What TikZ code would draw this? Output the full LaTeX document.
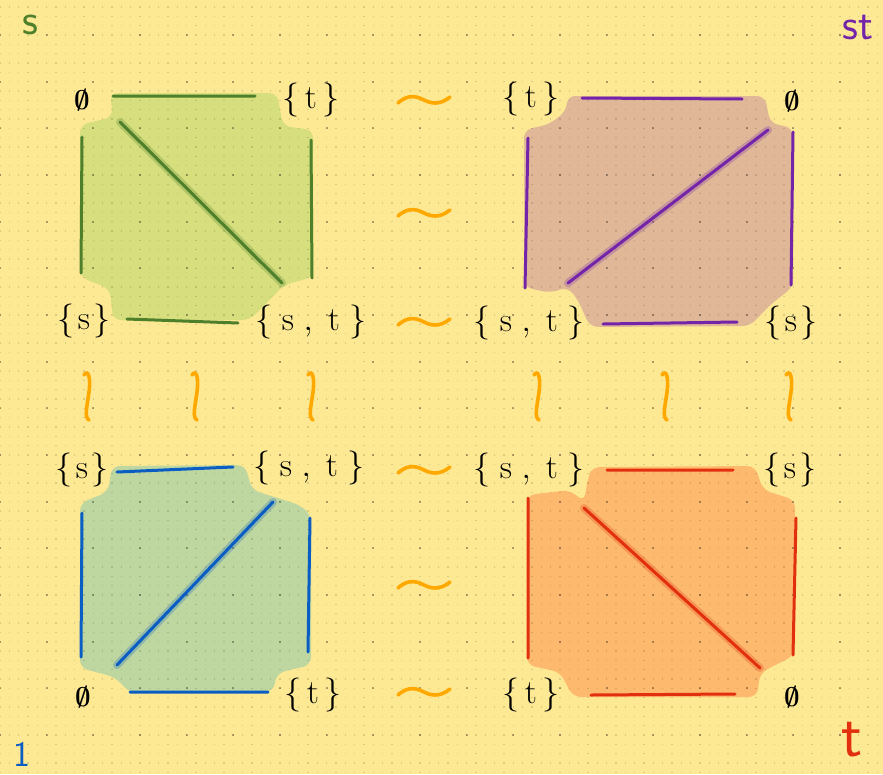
\RequirePackage{fix-cm}
\documentclass[tikz,border=0pt]{standalone}
\definecolor{bg}{HTML}{FDE993}
\definecolor{gfill}{HTML}{D6DE7E}
\definecolor{gline}{HTML}{4E7F2A}
\definecolor{pfill}{HTML}{E0B898}
\definecolor{pline}{HTML}{7424A8}
\definecolor{bfill}{HTML}{BED6A0}
\definecolor{bline}{HTML}{0A5DC2}
\definecolor{ofill}{HTML}{FDBA6E}
\definecolor{oline}{HTML}{E2300F}
\definecolor{tildec}{HTML}{FFA800}
\tikzset{
  edgeline/.style={line width=3pt, line cap=round},
  halo/.style={line width=8pt, line cap=round, opacity=0.25},
  blob/.style={rounded corners=8pt},
  lab/.style={font=\fontsize{34}{34}\selectfont, inner sep=0pt},
  elab/.style={font=\fontsize{27}{27}\selectfont\boldmath, inner sep=0pt},
  corner/.style={font=\sffamily\fontsize{44}{44}\selectfont, inner sep=0pt},
  tld/.style={draw=tildec, line width=3.6pt, line cap=round},
}
\newcommand{\Sst}{$\{\;\mathrm{s}\;,\;\mathrm{t}\;\}$}
\newcommand{\St}{$\{\,\mathrm{t}\,\}$}
\newcommand{\Ss}{$\{\mkern2mu\mathrm{s}\mkern2mu\}$}
\newcommand{\Se}{$\emptyset$}
\newcommand{\htld}[3]{\draw[tld] (#2-26,#3+3) .. controls (#2-15,#3-7) and (#2-6,#3-3) .. (#2,#3) .. controls (#2+6,#3+3) and (#2+15,#3+6) .. (#2+26,#3-3) coordinate (#1);}
\newcommand{\vtld}[3]{\draw[tld] (#2-4,#3-22) .. controls (#2,#3-28) and (#2+3,#3-20) .. (#2+1,#3-5) .. controls (#2-1,#3+10) and (#2-4,#3+20) .. (#2+1,#3+23) coordinate (#1);}
\begin{document}
\begin{tikzpicture}[x=1pt,y=-1pt]
\useasboundingbox (0,0) rectangle (883,774);
\fill[bg] (0,0) rectangle (883,774);

% fills
\fill[gfill,blob] (110,93) -- (277,93) -- (283,126) -- (313,130) -- (313,277) -- (284,285) -- (250,320) -- (113,320) -- (110,289) -- (80,277) -- (80,125) -- (113,117) -- cycle;
\fill[pfill,blob] (567,96) -- (765,96) -- (770,123) -- (793,128) -- (793,287) -- (770,305) -- (750,326) -- (590,327) -- (578,300) -- (568,287) -- (550,293) -- (524,287) -- (524,130) -- (550,124) -- (567,110) -- cycle;
\fill[bfill,blob] (112,466) -- (245,465) -- (252,490) -- (300,505) -- (311,515) -- (311,665) -- (277,673) -- (273,692) -- (130,693) -- (115,677) -- (80,668) -- (80,503) -- (108,492) -- cycle;
\fill[ofill,blob] (592,467) -- (755,466) -- (763,490) -- (795,500) -- (795,655) -- (760,673) -- (757,697) -- (573,697) -- (560,672) -- (527,665) -- (527,495) -- (570,490) -- (584,502) -- (588,478) -- cycle;

% dot grid
\foreach \j in {0,...,82} {
  \draw[black, opacity=0.13, line width=1.5pt, dash pattern=on 1.5pt off 7.833pt, dash phase=0.75pt] (0,{7+9.3333*\j}) -- (883,{7+9.3333*\j});
}
\foreach \j in {0,...,16} {
  \draw[black, opacity=0.3, line width=2.2pt, dash pattern=on 2.2pt off 44.467pt, dash phase=1.1pt] (0,{35+46.667*\j}) -- (883,{35+46.667*\j});
}

% green square
\coordinate (g1) at (113,96); \coordinate (g2) at (255,96);
\coordinate (g3) at (82,137); \coordinate (g4) at (81,273);
\coordinate (g5) at (311,140); \coordinate (g6) at (312,278);
\coordinate (g7) at (127,319); \coordinate (g8) at (238,323);
\coordinate (g9) at (120,122); \coordinate (g10) at (282,283);
\draw[halo,gline] (g9) -- (g10);
\draw[edgeline,gline] (g1) -- (g2) (g3) -- (g4) (g5) -- (g6) (g7) -- (g8) (g9) -- (g10);

% purple square
\coordinate (p1) at (582,98); \coordinate (p2) at (742,99);
\coordinate (p3) at (528,138); \coordinate (p4) at (525,288);
\coordinate (p5) at (793,132); \coordinate (p6) at (791,285);
\coordinate (p7) at (603,324); \coordinate (p8) at (737,322);
\coordinate (p9) at (568,283); \coordinate (p10) at (768,130);
\draw[halo,pline] (p9) -- (p10);
\draw[edgeline,pline] (p1) -- (p2) (p3) -- (p4) (p5) -- (p6) (p7) -- (p8) (p9) -- (p10);

% blue square
\coordinate (b1) at (117,472); \coordinate (b2) at (233,467);
\coordinate (b3) at (82,513); \coordinate (b4) at (81,657);
\coordinate (b5) at (310,518); \coordinate (b6) at (308,652);
\coordinate (b7) at (130,692); \coordinate (b8) at (268,692);
\coordinate (b9) at (117,665); \coordinate (b10) at (273,502);
\draw[halo,bline] (b9) -- (b10);
\draw[edgeline,bline] (b1) -- (b2) (b3) -- (b4) (b5) -- (b6) (b7) -- (b8) (b9) -- (b10);

% orange square
\coordinate (o1) at (607,470); \coordinate (o2) at (733,470);
\coordinate (o3) at (528,498); \coordinate (o4) at (528,658);
\coordinate (o5) at (796,518); \coordinate (o6) at (793,655);
\coordinate (o7) at (591,695); \coordinate (o8) at (735,694);
\coordinate (o9) at (584,508); \coordinate (o10) at (760,668);
\draw[halo,oline] (o9) -- (o10);
\draw[edgeline,oline] (o1) -- (o2) (o3) -- (o4) (o5) -- (o6) (o7) -- (o8) (o9) -- (o10);

% labels
\node[elab] (gl1) at (82,100) {\Se};
\node[lab] (gl2) at (311,100) {\St};
\node[lab] (gl3) at (84,321) {\Ss};
\node[lab] (gl4) at (311,322) {\Sst};

\node[lab] (pl1) at (531,99) {\St};
\node[elab] (pl2) at (792,101) {\Se};
\node[lab] (pl3) at (529,323) {\Sst};
\node[lab] (pl4) at (791,323) {\Ss};

\node[lab] (bl1) at (82,470) {\Ss};
\node[lab] (bl2) at (309,468) {\Sst};
\node[elab] (bl3) at (83,697) {\Se};
\node[lab] (bl4) at (313,695) {\St};

\node[lab] (ol1) at (529,470) {\Sst};
\node[lab] (ol2) at (790,470) {\Ss};
\node[lab] (ol3) at (531,695) {\St};
\node[elab] (ol4) at (792,697) {\Se};

% tildes
\htld{h1}{424}{100}
\htld{h2}{424}{213}
\htld{h3}{424}{322}
\htld{h4}{424}{470}
\htld{h5}{424}{585}
\htld{h6}{424}{692}
\vtld{v1}{88}{397}
\vtld{v2}{196}{397}
\vtld{v3}{312}{397}
\vtld{v4}{538}{397}
\vtld{v5}{666}{397}
\vtld{v6}{790}{397}

% corner labels
\node[corner, text=gline] (cs) at (30,25) {s};
\node[corner, text=pline] (cst) at (858,28) {st};
\node[corner, text=bline, font=\sffamily\fontsize{36}{36}\selectfont] (c1) at (22,754) {1};
\node[corner, text=oline, font=\sffamily\fontsize{62}{62}\selectfont] (ct) at (852,740) {t};
\end{tikzpicture}
\end{document}
